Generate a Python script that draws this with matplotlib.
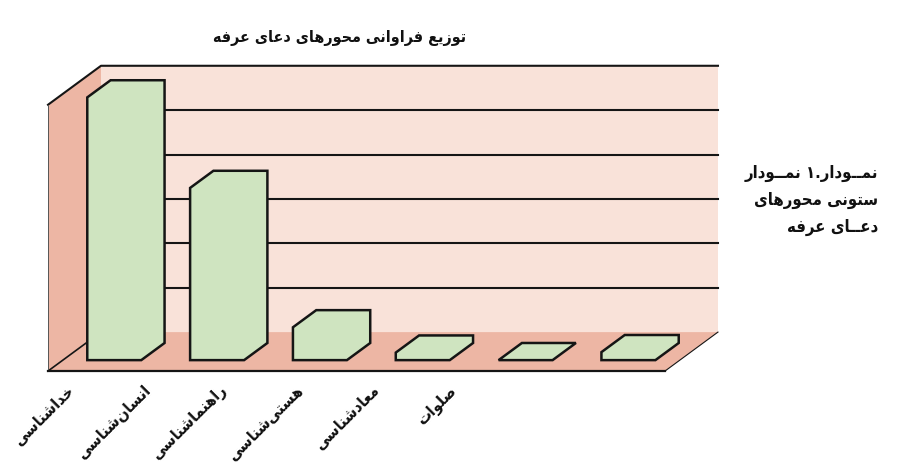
import matplotlib
matplotlib.use('Agg')
import matplotlib.pyplot as plt
from matplotlib.patches import Polygon

# data
categories = ['خداشناسی', 'انسان\u200cشناسی', 'راهنماشناسی', 'هستی\u200cشناسی', 'معادشناسی', 'صلوات']
counts = [29.6, 19.4, 3.7, 0.85, 0.0, 0.9]
grid_values = [5, 10, 15, 20, 25]
y_max = 30
title = 'توزیع فراوانی محورهای دعای عرفه'
note_lines = ['نمــودار.۱ نمــودار', 'ستونی محورهای', 'دعــای عرفه']

# contextual forms: isolated, final, initial, medial
FORMS = {
    '\u0627': ('\uFE8D', '\uFE8E', None, None),
    '\u0628': ('\uFE8F', '\uFE90', '\uFE91', '\uFE92'),
    '\u062A': ('\uFE95', '\uFE96', '\uFE97', '\uFE98'),
    '\u062D': ('\uFEA1', '\uFEA2', '\uFEA3', '\uFEA4'),
    '\u062E': ('\uFEA5', '\uFEA6', '\uFEA7', '\uFEA8'),
    '\u062F': ('\uFEA9', '\uFEAA', None, None),
    '\u0631': ('\uFEAD', '\uFEAE', None, None),
    '\u0632': ('\uFEAF', '\uFEB0', None, None),
    '\u0633': ('\uFEB1', '\uFEB2', '\uFEB3', '\uFEB4'),
    '\u0634': ('\uFEB5', '\uFEB6', '\uFEB7', '\uFEB8'),
    '\u0635': ('\uFEB9', '\uFEBA', '\uFEBB', '\uFEBC'),
    '\u0639': ('\uFEC9', '\uFECA', '\uFECB', '\uFECC'),
    '\u0641': ('\uFED1', '\uFED2', '\uFED3', '\uFED4'),
    '\u0644': ('\uFEDD', '\uFEDE', '\uFEDF', '\uFEE0'),
    '\u0645': ('\uFEE1', '\uFEE2', '\uFEE3', '\uFEE4'),
    '\u0646': ('\uFEE5', '\uFEE6', '\uFEE7', '\uFEE8'),
    '\u0647': ('\uFEE9', '\uFEEA', '\uFEEB', '\uFEEC'),
    '\u0648': ('\uFEED', '\uFEEE', None, None),
    '\u06CC': ('\uFBFC', '\uFBFD', '\uFBFE', '\uFBFF'),
    '\u0640': ('\u0640', '\u0640', '\u0640', '\u0640'),
}


def shape(text):
    # join letters and flip to visual order (matplotlib does no bidi)
    chars = list(text.replace('\u064A', '\u06CC'))
    out = []
    for i, ch in enumerate(chars):
        if ch not in FORMS:
            out.append(ch)
            continue
        prev = chars[i - 1] if i > 0 else None
        nxt = chars[i + 1] if i + 1 < len(chars) else None
        join_prev = prev in FORMS and FORMS[prev][2] is not None
        join_next = FORMS[ch][2] is not None and nxt in FORMS
        isol, fin, ini, med = FORMS[ch]
        if join_prev and join_next:
            out.append(med)
        elif join_prev:
            out.append(fin)
        elif join_next:
            out.append(ini)
        else:
            out.append(isol)
    return ''.join(reversed(out)).replace('\u200c', '')


wall_color = '#f9e2d9'
side_color = '#edb6a4'
bar_color = '#cfe4c0'
edge_color = '#151515'
font = ['DejaVu Sans']
txt = dict(fontweight='bold', family=font, fontstretch='condensed', color='#111111')

fig = plt.figure(figsize=(9.15, 4.67), dpi=100)
ax = fig.add_axes([0, 0, 1, 1])
ax.set_xlim(-0.967, 7.931)
ax.set_ylim(-10.81, 41.80)
ax.axis('off')

dx, dy = 0.515, 4.39          # depth of the box
z0, z1 = 0.28, 0.72           # where the bars sit in depth
half_w = 0.2625
x_left, x_right = -0.5, len(categories) - 0.5

# back wall + grid
ax.add_patch(Polygon([(x_left + dx, dy), (x_right + dx, dy), (x_right + dx, y_max + dy),
                      (x_left + dx, y_max + dy)], closed=True, fc=wall_color, ec='none', zorder=1))
for g in grid_values:
    ax.plot([x_left + dx, x_right + dx], [g + dy, g + dy], color=edge_color, lw=1.5, zorder=2)
ax.plot([x_left, x_left + dx, x_right + dx], [y_max, y_max + dy, y_max + dy],
        color=edge_color, lw=1.5, zorder=2)

# left wall and floor
ax.add_patch(Polygon([(x_left, 0), (x_left + dx, dy), (x_left + dx, y_max + dy), (x_left, y_max)],
                     closed=True, fc=side_color, ec='none', zorder=1))
ax.add_patch(Polygon([(x_left, 0), (x_right, 0), (x_right + dx, dy), (x_left + dx, dy)],
                     closed=True, fc=side_color, ec='none', zorder=1))
ax.plot([x_left, x_right], [0, 0], color=edge_color, lw=1.6, zorder=3)
ax.plot([x_left, x_left + dx], [0, dy], color=edge_color, lw=1.2, zorder=2)
ax.plot([x_right, x_right + dx], [0, dy], color=edge_color, lw=0.8, zorder=2)
ax.plot([x_left, x_left], [0, y_max], color='#555555', lw=0.7, zorder=2)

# bars as one outlined solid each
for i, v in enumerate(counts):
    xl, xr = i - half_w, i + half_w
    pts = [(xl + z0 * dx, z0 * dy), (xl + z0 * dx, v + z0 * dy), (xl + z1 * dx, v + z1 * dy),
           (xr + z1 * dx, v + z1 * dy), (xr + z1 * dx, z1 * dy), (xr + z0 * dx, z0 * dy)]
    ax.add_patch(Polygon(pts, closed=True, fc=bar_color, ec=edge_color, lw=1.8,
                         joinstyle='miter', zorder=4))

# category labels
label_x0, label_step, label_y = -0.27, 0.743, -1.9
for i, name in enumerate(categories):
    ax.text(label_x0 + i * label_step, label_y, shape(name), rotation=45, rotation_mode='anchor',
            ha='right', va='center', fontsize=11.5, **txt)

fig.text(340 / 915, 1 - 38 / 467, shape(title), ha='center', va='center', fontsize=11.5, **txt)
for k, line in enumerate(note_lines):
    fig.text(878 / 915, 1 - (173 + 27 * k) / 467, shape(line), ha='right', va='center',
             fontsize=12, **txt)

fig.savefig('out.png', dpi=100)
